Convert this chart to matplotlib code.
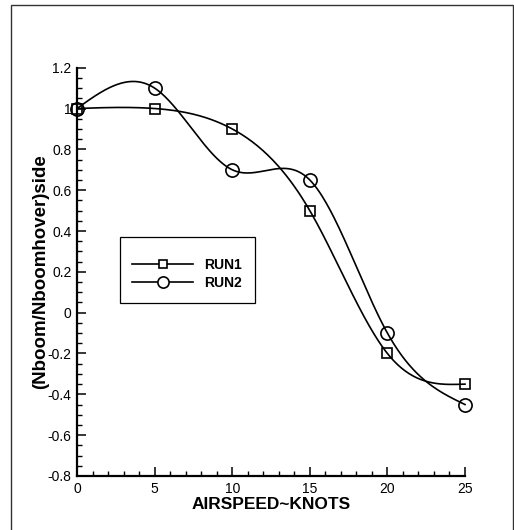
import numpy as np
import matplotlib
matplotlib.use("Agg")
import matplotlib.pyplot as plt
from matplotlib.patches import Rectangle
from matplotlib.ticker import MultipleLocator, FormatStrFormatter

# Daten
airspeed = [0, 5, 10, 15, 20, 25]
run1 = [1.0, 1.0, 0.9, 0.5, -0.2, -0.35]
run2 = [1.0, 1.1, 0.7, 0.65, -0.1, -0.45]
labels = ["RUN1", "RUN2"]
markers = ["s", "o"]
marker_sizes = [7, 9.5]


def natural_spline(x, y, n_out=300):
    # natuerlicher kubischer Spline wie bei Tecplot "Spline"-Kurven
    x = np.asarray(x, float)
    y = np.asarray(y, float)
    n = len(x)
    h = np.diff(x)
    A = np.zeros((n, n))
    rhs = np.zeros(n)
    A[0, 0] = 1
    A[-1, -1] = 1
    for i in range(1, n - 1):
        A[i, i - 1] = h[i - 1]
        A[i, i] = 2 * (h[i - 1] + h[i])
        A[i, i + 1] = h[i]
        rhs[i] = 6 * ((y[i + 1] - y[i]) / h[i] - (y[i] - y[i - 1]) / h[i - 1])
    M = np.linalg.solve(A, rhs)
    xs = np.linspace(x[0], x[-1], n_out)
    idx = np.clip(np.searchsorted(x, xs) - 1, 0, n - 2)
    t0 = x[idx + 1] - xs
    t1 = xs - x[idx]
    hi = h[idx]
    ys = (M[idx] * t0 ** 3 + M[idx + 1] * t1 ** 3) / (6 * hi) \
        + (y[idx] / hi - M[idx] * hi / 6) * t0 \
        + (y[idx + 1] / hi - M[idx + 1] * hi / 6) * t1
    return xs, ys


plt.rcParams['font.family'] = ['Liberation Sans', 'DejaVu Sans']

fig = plt.figure(figsize=(5.14, 5.30), dpi=100)
ax = fig.add_axes([0.1498, 0.1019, 0.7549, 0.7704])

# Rahmen um die Grafik
fig.patches.append(Rectangle((10.5 / 514, -0.05), (513 - 10.5) / 514, 1.05 - 4.5 / 530,
                             transform=fig.transFigure, fill=False,
                             edgecolor="#333333", linewidth=1.0))

for ys, lab, mk, ms in zip([run1, run2], labels, markers, marker_sizes):
    xs_s, ys_s = natural_spline(airspeed, ys)
    ax.plot(xs_s, ys_s, color="black", linewidth=1.2, clip_on=False)
    ax.plot(airspeed, ys, linestyle="none", marker=mk, markersize=ms,
            markerfacecolor="none", markeredgecolor="black",
            markeredgewidth=1.2, clip_on=False, zorder=3)

# Legendenrahmen separat, damit Innenabstaende wie im Original
ax.add_patch(Rectangle((0.111, 0.424), 0.348, 0.161, transform=ax.transAxes,
                       facecolor="white", edgecolor="black", linewidth=0.9,
                       zorder=4))
handles = [plt.Line2D([], [], color="black", linewidth=1.2, marker=mk,
                      markersize=ms * 0.85, markerfacecolor="white",
                      markeredgecolor="black", markeredgewidth=1.2)
           for mk, ms in zip(markers, marker_sizes)]
leg = ax.legend(handles, labels, loc="center left", bbox_to_anchor=(0.1418, 0.4947),
                borderaxespad=0, borderpad=0, frameon=False,
                prop={"weight": "bold", "size": 10}, handlelength=4.39,
                handletextpad=0.79, labelspacing=0.3)
leg.set_zorder(5)

ax.set_xlim(0, 25)
ax.set_ylim(-0.8, 1.2)
ax.xaxis.set_major_locator(MultipleLocator(5))
ax.xaxis.set_minor_locator(MultipleLocator(1))
ax.yaxis.set_major_locator(MultipleLocator(0.2))
ax.yaxis.set_minor_locator(MultipleLocator(0.05))
ax.yaxis.set_major_formatter(FormatStrFormatter("%g"))

ax.spines['top'].set_visible(False)
ax.spines['right'].set_visible(False)
ax.spines['left'].set_linewidth(1.6)
ax.spines['bottom'].set_linewidth(1.6)
ax.tick_params(which="major", direction="in", length=6.5, width=1.1,
               labelsize=10, pad=4)
ax.tick_params(which="minor", direction="in", length=3.6, width=1.0)

ax.set_xlabel("AIRSPEED~KNOTS", fontsize=12.5, fontweight="bold", labelpad=1)
ax.set_ylabel("(Nboom/Nboomhover)side", fontsize=13.5, fontweight="bold", labelpad=-1)

fig.savefig("out.png", dpi=100)
